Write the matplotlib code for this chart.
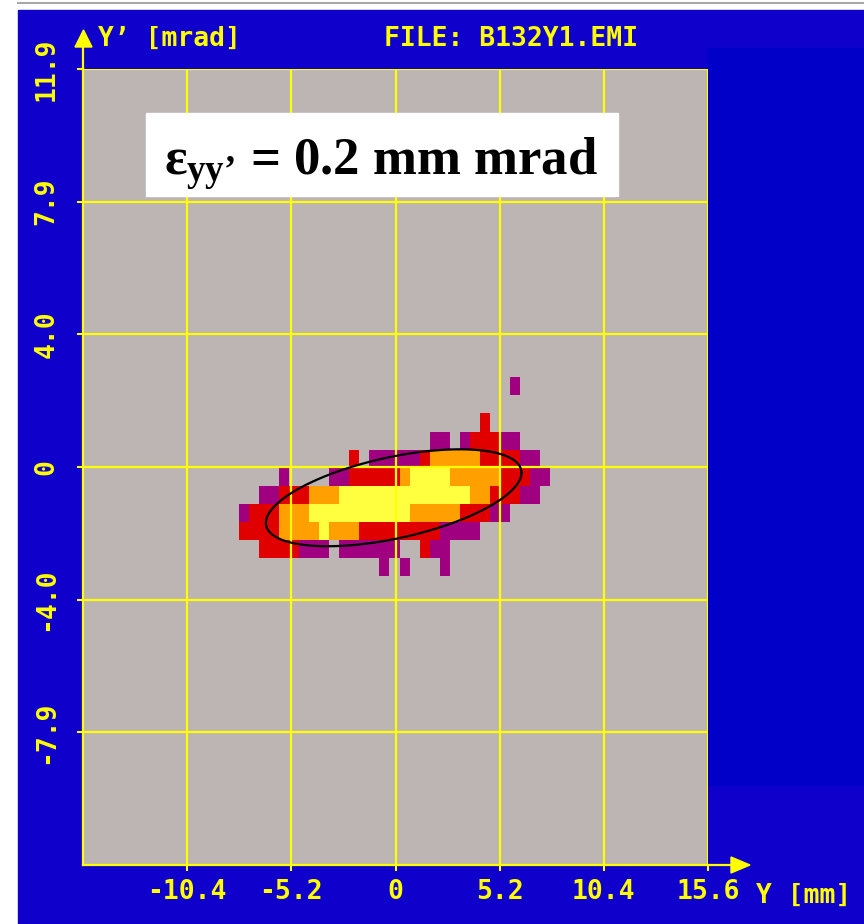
import matplotlib
matplotlib.use('Agg')
import matplotlib.pyplot as plt
import numpy as np
from matplotlib.patches import Rectangle, Polygon
from matplotlib.lines import Line2D
from matplotlib.colors import ListedColormap, BoundaryNorm

# axis ticks
x_ticks = [-10.4, -5.2, 0, 5.2, 10.4, 15.6]
x_tick_labels = ['-10.4', '-5.2', '0', '5.2', '10.4', '15.6']
y_ticks = [11.9, 7.933, 3.967, 0, -3.967, -7.933]
y_tick_labels = ['11.9', '7.9', '4.0', '0', '-4.0', '-7.9']
x_range = (-15.6, 15.6)
y_range = (-11.9, 11.9)

# phase space density map, rows from top to bottom, 32 columns
# . empty, 1 purple, 2 red, 3 orange, 4 yellow
cell_x0 = -7.8   # left edge of first column [mm]
cell_dx = 0.5
cell_y0 = 2.68   # top edge of first row [mrad]
cell_dy = 0.54
density_rows = [
    "..........................." "1" "....",
    "................................",
    "........................" "2" ".......",
    "..................." "11" "." "1" "222" "11" "....",
    "..........." "2" "." "11111" "2" "33333" "2222" "11" "..",
    "...." "1" "...." "11" "22222" "3" "4444" "33333" "222" "11" ".",
    ".." "11" "222" "333" "4444444444444" "33" "222" "11" "..",
    "1" "222" "333" "4444444444" "33333" "222" "11" ".....",
    "2222" "3333" "4" "333" "22222222" "1111" "........",
    ".." "2222" "111" "." "111111" ".." "2" "11" "...........",
    ".............." "1" "." "1" "..." "1" "...........",
]

# rms ellipse (center, half width, correlated half heights)
ell_x0, ell_y0 = -0.09, -0.92
ell_a = 6.38
ell_b = 0.75
ell_c = 1.24

label_text = r"$\varepsilon_{\mathrm{yy’}}$ = 0.2 mm mrad"
file_text = "FILE: B132Y1.EMI"
ylabel_text = "Y’ [mrad]"
xlabel_text = "Y [mm]"

# colours
c_outer = '#1000CC'
c_panel = '#0000C8'
c_plot = '#BDB4B4'
c_yel = '#FFFF00'
level_colors = ['#A00080', '#E00000', '#FFA000', '#FFFF40']

pix_font = 'DejaVu Sans Mono'
pix_size = 19

plt.rcParams['mathtext.fontset'] = 'custom'
plt.rcParams['mathtext.rm'] = 'Liberation Serif:bold'
plt.rcParams['mathtext.it'] = 'Liberation Serif:bold'
plt.rcParams['mathtext.bf'] = 'Liberation Serif:bold'

W, H = 864, 924
def fx(x):
    return x / W
def fy(y):
    return 1 - y / H

fig = plt.figure(figsize=(W / 100, H / 100), dpi=100, facecolor='white')

# blue screen background and right panel
fig.add_artist(Rectangle((fx(18), fy(924)), fx(864) - fx(18), fy(10) - fy(924),
                         transform=fig.transFigure, color=c_outer, zorder=0))
fig.add_artist(Line2D([fx(18), fx(864)], [fy(3), fy(3)], transform=fig.transFigure,
                      color='#A8A8A8', lw=1.5, zorder=0))
fig.add_artist(Rectangle((fx(707), fy(785)), fx(864) - fx(707), fy(48) - fy(785),
                         transform=fig.transFigure, color=c_panel, zorder=0))

ax = fig.add_axes([fx(83), fy(865), fx(708) - fx(83), fy(69) - fy(865)])
ax.set_facecolor(c_plot)

grid = np.array([[0 if ch == '.' else int(ch) for ch in row] for row in density_rows], float)
grid = np.ma.masked_equal(grid, 0)
nrows, ncols = grid.shape
xe = cell_x0 + cell_dx * np.arange(ncols + 1)
ye = cell_y0 - cell_dy * np.arange(nrows + 1)
cmap = ListedColormap(level_colors)
norm = BoundaryNorm([0.5, 1.5, 2.5, 3.5, 4.5], cmap.N)
ax.pcolormesh(xe, ye, grid, cmap=cmap, norm=norm, zorder=1)

t = np.linspace(0, 2 * np.pi, 400)
ax.plot(ell_x0 + ell_a * np.cos(t), ell_y0 + ell_b * np.cos(t) + ell_c * np.sin(t),
        color='black', lw=1.6, zorder=3)

ax.set_xlim(*x_range)
ax.set_ylim(*y_range)
ax.set_xticks(x_ticks)
ax.set_xticklabels(x_tick_labels)
ax.set_yticks(y_ticks)
ax.set_yticklabels(y_tick_labels, rotation=90, va='center')
ax.grid(True, color=c_yel, lw=1.6, zorder=2)
ax.tick_params(colors=c_yel, length=4, width=1.5, direction='out')
ax.tick_params(axis='x', pad=6)
ax.tick_params(axis='y', pad=13)
for lab in ax.get_xticklabels() + ax.get_yticklabels():
    lab.set_fontfamily(pix_font)
    lab.set_fontweight('bold')
    lab.set_fontsize(pix_size)
    lab.set_color(c_yel)
for s in ['top', 'right']:
    ax.spines[s].set_visible(False)
for s in ['left', 'bottom']:
    ax.spines[s].set_color(c_yel)
    ax.spines[s].set_linewidth(1.6)

# axis arrows
fig.add_artist(Line2D([fx(83), fx(83)], [fy(69), fy(46)], transform=fig.transFigure,
                      color=c_yel, lw=1.6))
fig.add_artist(Polygon([(fx(75), fy(47)), (fx(92), fy(47)), (fx(83.5), fy(30))],
                       closed=True, transform=fig.transFigure, color=c_yel))
fig.add_artist(Line2D([fx(708), fx(732)], [fy(865), fy(865)], transform=fig.transFigure,
                      color=c_yel, lw=1.6))
fig.add_artist(Polygon([(fx(731), fy(857)), (fx(731), fy(873)), (fx(750), fy(865))],
                       closed=True, transform=fig.transFigure, color=c_yel))

# header and axis labels
fig.text(fx(98), fy(46), ylabel_text, color=c_yel, fontfamily=pix_font,
         fontweight='bold', fontsize=pix_size, ha='left', va='baseline')
fig.text(fx(384), fy(46), file_text, color=c_yel, fontfamily=pix_font,
         fontweight='bold', fontsize=pix_size, ha='left', va='baseline')
fig.text(fx(756), fy(903), xlabel_text, color=c_yel, fontfamily=pix_font,
         fontweight='bold', fontsize=pix_size, ha='left', va='baseline')

# emittance box
fig.add_artist(Rectangle((fx(146), fy(196)), fx(618) - fx(146), fy(113) - fy(196),
                         transform=fig.transFigure, color='white', zorder=5))
fig.text(fx(381), fy(175), label_text, color='black', fontfamily='Liberation Serif',
         fontweight='bold', fontsize=38, ha='center', va='baseline', zorder=6)

fig.savefig('out.png', dpi=100)
